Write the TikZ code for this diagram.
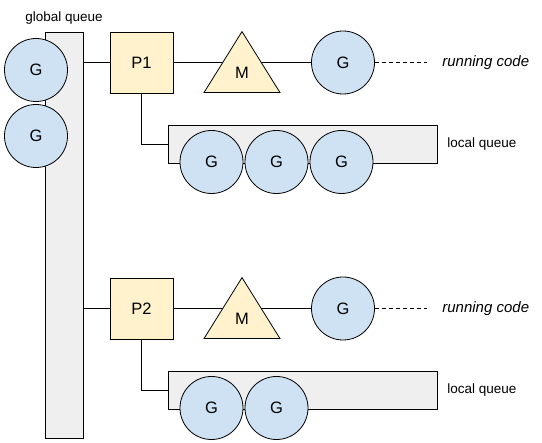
\documentclass[tikz,border=0pt]{standalone}
\usepackage{fontspec}
\setmainfont{Liberation Sans}
\usetikzlibrary{shapes.geometric,backgrounds}
\definecolor{gblue}{HTML}{CFE2F3}
\definecolor{pyellow}{HTML}{FFF2CC}
\definecolor{qgray}{HTML}{EFEFEF}
\tikzset{
  gor/.style={circle,draw,fill=gblue,minimum size=63pt,inner sep=0pt,font=\fontsize{16.5}{19}\selectfont},
  proc/.style={rectangle,draw,fill=pyellow,minimum width=63pt,minimum height=61pt,inner sep=0pt,font=\fontsize{16.5}{19}\selectfont},
  mach/.style={isosceles triangle,isosceles triangle stretches,shape border rotate=90,draw,fill=pyellow,minimum width=76pt,minimum height=61pt,inner sep=0pt,anchor=lower side},
  queue/.style={rectangle,draw,fill=qgray,inner sep=0pt},
  small/.style={inner sep=0pt,font=\fontsize{13.5}{16}\selectfont},
}
\begin{document}
\begin{tikzpicture}[x=1pt,y=-1pt,line width=0.8pt]
\useasboundingbox (0,0) rectangle (542,443);
% global queue
\node[queue,minimum width=38pt,minimum height=406pt] (gq) at (64,235) {};
\node[small] (gqtext) at (64,18) {global queue};
\node[gor] (gg1) at (36,70) {G};
\node[gor] (gg2) at (36,136) {G};
% first P
\begin{scope}
  \node[proc] (p1) at (141.5,62.5) {P1};
  \node[mach] (m1) at (242,93) {};
  \node[inner sep=0pt,font=\fontsize{16.5}{19}\selectfont] (m1text) at (242,73) {M};
  \node[gor] (g1) at (343,62.5) {G};
  \node[small,anchor=west,font=\fontsize{15}{18}\selectfont\itshape] (run1) at (442,62.5) {running code};
  \node[queue,minimum width=269pt,minimum height=38pt] (lq1) at (302.5,144) {};
  \node[small,anchor=west] (lqtext1) at (447,144) {local queue};
  \node[gor] (lg11) at (211.5,162) {G};
  \node[gor] (lg12) at (276.5,162) {G};
  \node[gor] (lg13) at (341.5,162) {G};
  \begin{scope}[on background layer]
    \draw (p1.east) -- (g1.west);
  \end{scope}
  \draw (gq.east |- p1.west) -- (p1.west);
  \draw[dash pattern=on 4pt off 3pt,shorten >=15pt] (g1.east) -- (run1.west);
  \draw (p1.south) |- (lq1.west);
\end{scope}
% second P
\begin{scope}[shift={(0,246)}]
  \node[proc] (p2) at (141.5,62.5) {P2};
  \node[mach] (m2) at (242,93) {};
  \node[inner sep=0pt,font=\fontsize{16.5}{19}\selectfont] (m2text) at (242,73) {M};
  \node[gor] (g2) at (343,62.5) {G};
  \node[small,anchor=west,font=\fontsize{15}{18}\selectfont\itshape] (run2) at (442,62.5) {running code};
  \node[queue,minimum width=269pt,minimum height=38pt] (lq2) at (302.5,144) {};
  \node[small,anchor=west] (lqtext2) at (447,144) {local queue};
  \node[gor] (lg21) at (211.5,162) {G};
  \node[gor] (lg22) at (276.5,162) {G};
  \begin{scope}[on background layer]
    \draw (p2.east) -- (g2.west);
  \end{scope}
  \draw (gq.east |- p2.west) -- (p2.west);
  \draw[dash pattern=on 4pt off 3pt,shorten >=15pt] (g2.east) -- (run2.west);
  \draw (p2.south) |- (lq2.west);
\end{scope}
\end{tikzpicture}
\end{document}
